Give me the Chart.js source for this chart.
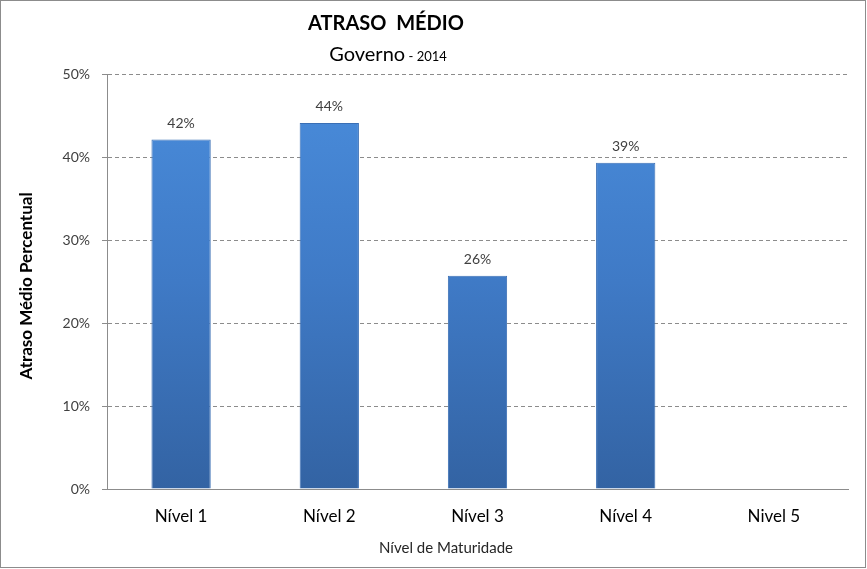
<!DOCTYPE html>
<html>
<head>
<meta charset="utf-8">
<script src="https://cdn.jsdelivr.net/npm/chart.js@4"></script>
<style>
  html, body { margin: 0; padding: 0; background: #fff; }
  #wrap { width: 867px; height: 569px; position: relative; }
</style>
</head>
<body>
<div id="wrap"><canvas id="c" width="867" height="569"></canvas></div>
<script>
const categories = ['Nível 1', 'Nível 2', 'Nível 3', 'Nível 4', 'Nivel 5'];
const values = [42.1, 44.1, 25.7, 39.3, null];
const yTicks = [0, 10, 20, 30, 40, 50];
const chartTitle = 'ATRASO  MÉDIO';
const chartSubtitle = 'Governo';
const chartSubtitleYear = ' - 2014';
const xTitle = 'Nível de Maturidade';
const yTitle = 'Atraso Médio Percentual';

const FONT = 'Lato, "Open Sans", sans-serif';

const decor = {
  id: 'decor',
  afterDraw(chart) {
    const ctx = chart.ctx;
    ctx.save();
    // border
    ctx.strokeStyle = '#8c8c8c';
    ctx.lineWidth = 1;
    ctx.strokeRect(0.5, 0.5, 865, 567);
    // title
    ctx.fillStyle = '#000';
    ctx.textAlign = 'center';
    ctx.textBaseline = 'middle';
    ctx.font = 'bold 20px ' + FONT;
    ctx.fillText(chartTitle, 386, 24);
    // subtitle
    ctx.font = '20px ' + FONT;
    const w1 = ctx.measureText(chartSubtitle).width;
    ctx.font = '13px ' + FONT;
    const w2 = ctx.measureText(chartSubtitleYear).width;
    const sx = 388 - (w1 + w2) / 2;
    ctx.textAlign = 'left';
    ctx.textBaseline = 'alphabetic';
    ctx.font = '20px ' + FONT;
    ctx.fillText(chartSubtitle, sx, 61);
    ctx.font = '13px ' + FONT;
    ctx.fillText(chartSubtitleYear, sx + w1, 61);
    // x title
    ctx.textAlign = 'center';
    ctx.textBaseline = 'middle';
    ctx.fillStyle = '#262626';
    ctx.font = '15px ' + FONT;
    ctx.fillText(xTitle, 446, 548);
    // y title
    ctx.translate(27, 286);
    ctx.rotate(-Math.PI / 2);
    ctx.fillStyle = '#000';
    ctx.font = 'bold 17px ' + FONT;
    ctx.fillText(yTitle, 0, 0);
    ctx.restore();

    // data labels
    const meta = chart.getDatasetMeta(0);
    ctx.save();
    ctx.font = '14px ' + FONT;
    ctx.fillStyle = '#404040';
    ctx.textAlign = 'center';
    ctx.textBaseline = 'bottom';
    meta.data.forEach((bar, i) => {
      const v = values[i];
      if (v === null || v === undefined) return;
      ctx.fillText(Math.round(v) + '%', bar.x, bar.y - 9);
    });
    ctx.restore();
  }
};

function barFill(context) {
  const chart = context.chart;
  const area = chart.chartArea;
  if (!area) return '#3f7cc8';
  const g = chart.ctx.createLinearGradient(0, area.top, 0, area.bottom);
  g.addColorStop(0, '#4a8ddc');
  g.addColorStop(0.5, '#3f7ac6');
  g.addColorStop(1, '#3363a3');
  return g;
}

new Chart(document.getElementById('c'), {
  type: 'bar',
  data: {
    labels: categories,
    datasets: [{
      data: values,
      backgroundColor: barFill,
      borderColor: '#3a6fb5',
      borderWidth: 1,
      barPercentage: 1.0,
      categoryPercentage: 0.4
    }]
  },
  plugins: [decor],
  options: {
    responsive: false,
    animation: false,
    layout: { padding: { top: 74, right: 19, left: 0, bottom: 0 } },
    plugins: { legend: { display: false }, tooltip: { enabled: false }, title: { display: false } },
    scales: {
      x: {
        grid: { display: false },
        border: { display: true, color: '#8c8c8c', width: 1 },
        ticks: { color: '#000', font: { family: FONT, size: 17 }, padding: 9, maxRotation: 0 },
        afterFit(scale) { scale.height = 80; }
      },
      y: {
        min: 0, max: 50,
        afterBuildTicks(scale) { scale.ticks = yTicks.map(v => ({ value: v })); },
        grid: { color: '#8c8c8c', tickLength: 5, tickColor: '#8c8c8c', lineWidth: 1 },
        border: { display: true, color: '#8c8c8c', dash: [4, 3] },
        ticks: { color: '#404040', font: { family: FONT, size: 14 }, padding: 12, callback: v => v + '%' },
        afterFit(scale) { scale.width = 107; }
      }
    }
  }
});
</script>
</body>
</html>
